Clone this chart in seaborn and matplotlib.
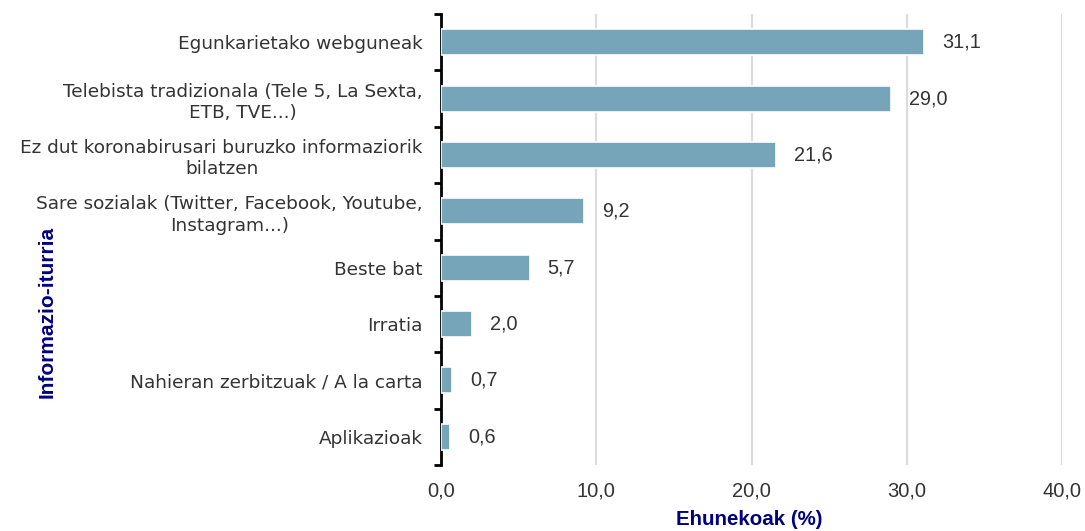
import matplotlib
matplotlib.use("Agg")
import numpy as np
import pandas as pd
import seaborn as sns
import matplotlib.pyplot as plt

# ---------------------------------------
# Data
# ---------------------------------------
sources = [
    "Egunkarietako webguneak",
    "Telebista tradizionala (Tele 5, La Sexta,\nETB, TVE...)",
    "Ez dut koronabirusari buruzko informaziorik\nbilatzen",
    "Sare sozialak (Twitter, Facebook, Youtube,\nInstagram...)",
    "Beste bat",
    "Irratia",
    "Nahieran zerbitzuak / A la carta",
    "Aplikazioak",
]
percent = [31.1, 29.0, 21.6, 9.2, 5.7, 2.0, 0.7, 0.6]
x_ticks = [0, 10, 20, 30, 40]

df = pd.DataFrame({"source": sources, "percent": percent})

# ---------------------------------------
# Styling
# ---------------------------------------
sns.set_style("white")
plt.rcParams["font.family"] = ["DejaVu Sans"]
num_font = "Liberation Sans"

fig = plt.figure(figsize=(10.85, 5.31), dpi=100)
ax = fig.add_axes([0.4065, 0.1243, 0.5723, 0.8493])

# ---------------------------------------
# Bar plot
# ---------------------------------------
sns.barplot(
    data=df,
    y="source",
    x="percent",
    orient="h",
    color="#76A5BA",
    saturation=1,
    width=0.46,
    edgecolor="white",
    linewidth=1.2,
    ax=ax,
    zorder=3,
)

for i, v in enumerate(percent):
    ax.annotate(
        f"{v:.1f}".replace(".", ","),
        xy=(v, i), xytext=(13, 0), textcoords="offset points",
        ha="left", va="center", fontsize=14.3, family=num_font,
        color="#333333", zorder=4,
    )

# ---------------------------------------
# Axes
# ---------------------------------------
ax.set_xlim(0, 40)
ax.set_ylim(len(sources) - 0.5, -0.5)
ax.set_xticks(x_ticks)
ax.set_xticklabels([f"{t:.1f}".replace(".", ",") for t in x_ticks],
                   fontsize=14.5, family=num_font, color="#333333")
ax.xaxis.grid(True, color="#dcdcdc", linewidth=1.6, zorder=0)
ax.yaxis.grid(False)
ax.tick_params(axis="x", length=0, pad=12)

ax.set_yticks(range(len(sources)))
ax.set_yticklabels(sources, fontsize=13.3, color="#333333", linespacing=1.25)
for lab in ax.get_yticklabels():
    lab.set_multialignment("center")
ax.set_yticks(np.arange(-0.5, len(sources), 1), minor=True)
ax.tick_params(axis="y", which="major", left=False, length=0, pad=13)
ax.tick_params(axis="y", which="minor", left=True, length=5, width=2,
               color="black", direction="out")

for s in ["top", "right", "bottom"]:
    ax.spines[s].set_visible(False)
ax.spines["left"].set_color("black")
ax.spines["left"].set_linewidth(2)

ax.set_xlabel("Ehunekoak (%)", fontsize=14.8, fontweight="bold",
              family=num_font, color="#000080")
ax.set_ylabel("Informazio-iturria", fontsize=15, fontweight="bold",
              family=num_font, color="#000080")
ax.yaxis.set_label_coords(-0.634, 0.34)
ax.xaxis.set_label_coords(0.496, -0.12)
ax.xaxis.label.set_va("center")
ax.yaxis.label.set_va("center")

# ---------------------------------------
# Save Output
# ---------------------------------------
fig.savefig("out.png", dpi=100)
plt.close(fig)
